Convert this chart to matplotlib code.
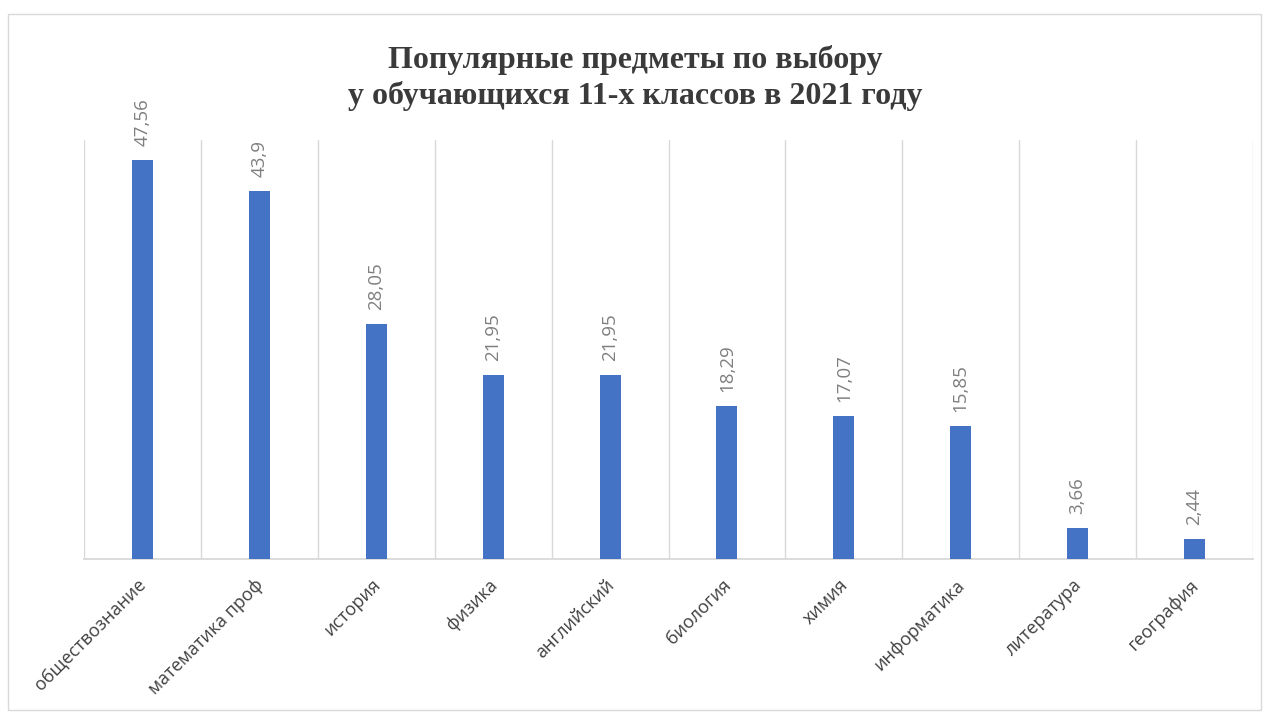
import matplotlib
matplotlib.use("Agg")
import matplotlib.pyplot as plt
from matplotlib.patches import Rectangle
from matplotlib.transforms import ScaledTranslation

categories = ["обществознание", "математика проф", "история", "физика", "английский",
              "биология", "химия", "информатика", "литература", "география"]
values = [47.56, 43.9, 28.05, 21.95, 21.95, 18.29, 17.07, 15.85, 3.66, 2.44]
value_labels = ["47,56", "43,9", "28,05", "21,95", "21,95", "18,29", "17,07", "15,85", "3,66", "2,44"]
title = "Популярные предметы по выбору\nу обучающихся 11-х классов в 2021 году"

W, H = 1269, 716
fig = plt.figure(figsize=(W / 100, H / 100), dpi=100)
fig.patch.set_facecolor("white")

# outer border
fig.patches.append(Rectangle((8 / W, 1 - 710 / H), (1261 - 8) / W, (710 - 14) / H,
                             transform=fig.transFigure, fill=False,
                             edgecolor="#d9d9d9", linewidth=1.0))

left, right = 84, 1253
bottom, top = 559, 140
ax = fig.add_axes([left / W, 1 - bottom / H, (right - left) / W, (bottom - top) / H])

n = len(categories)
x = list(range(n))
ax.bar(x, values, width=0.18, color="#4472C4", zorder=3)
ax.set_xlim(-0.5, n - 0.5)
ax.set_ylim(0, 50)

for b in [i - 0.5 for i in range(n + 1)]:
    ax.axvline(b, color="#d9d9d9", linewidth=1.0, zorder=1)

for s in ["top", "left", "right"]:
    ax.spines[s].set_visible(False)
ax.spines["bottom"].set_color("#d9d9d9")
ax.spines["bottom"].set_linewidth(1.3)
ax.set_yticks([])
ax.set_xticks(x)
ax.set_xticklabels(categories, rotation=45, ha="right", va="top", rotation_mode="anchor",
                   fontsize=13, color="#404040", family=["Open Sans", "DejaVu Sans"])
ax.tick_params(axis="x", length=0, pad=10)
shift = ScaledTranslation(-5 / 100, -3 / 100, fig.dpi_scale_trans)
for lbl in ax.get_xticklabels():
    lbl.set_transform(lbl.get_transform() + shift)

for xi, v, lab in zip(x, values, value_labels):
    ax.annotate(lab, (xi, v), xytext=(0, 14), textcoords="offset pixels",
                rotation=90, ha="center", va="bottom", fontsize=13.5, color="#7f7f7f",
                family=["Open Sans", "DejaVu Sans"])

fig.text(635 / W, 1 - 78 / H, title, ha="center", va="center", fontsize=23,
         fontweight="bold", family=["Liberation Serif", "DejaVu Serif"], color="#3a3a3a",
         linespacing=1.28)

fig.savefig("out.png", dpi=100, facecolor="white")
